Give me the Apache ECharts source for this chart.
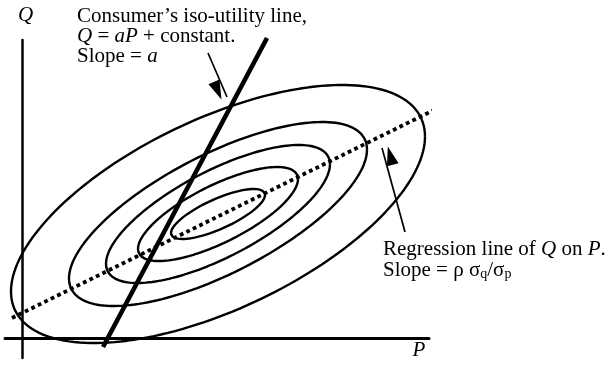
<!DOCTYPE html>
<html>
<head>
<meta charset="utf-8">
<script src="https://cdn.jsdelivr.net/npm/echarts@6/dist/echarts.min.js"></script>
<style>
  html, body { margin: 0; padding: 0; background: #fff; }
  #chart { width: 614px; height: 366px; }
</style>
</head>
<body>
<div id="chart"></div>
<script>
// ---- Data (P horizontal, Q vertical; origin at the axes crossing) ----
const contourLevels = ['innermost', 'second', 'third', 'fourth', 'outermost'];
const contourCenterP = 196;
const contourCenterQ = 124;
const contourHalfWidthP = [47, 80, 112, 149, 207];
const contourHalfHeightQ = [25, 47, 69, 92, 129];
const contourCorrelation = [0.76, 0.74, 0.72, 0.70, 0.60];

const regressionP = [-10, 414];
const regressionQ = [20, 229];

const isoUtilityP = [81, 245];
const isoUtilityQ = [-9, 300];

const arrowIsoUtilityP = [186, 205];
const arrowIsoUtilityQ = [285, 241];
const arrowRegressionP = [383, 360];
const arrowRegressionQ = [106, 190];

const axisRangeP = [-17, 407];
const axisRangeQ = [-20, 298];

const labelP = 'P';
const labelQ = 'Q';

// ---- Build ----
const FONT = '"Liberation Serif", "Times New Roman", Times, serif';
const INK = '#000';

function contourPoints(i) {
  const a = contourHalfWidthP[i], b = contourHalfHeightQ[i], r = contourCorrelation[i];
  const s = Math.sqrt(1 - r * r);
  const pts = [];
  for (let d = 0; d <= 360; d += 2) {
    const t = d * Math.PI / 180;
    pts.push([contourCenterP + a * Math.cos(t),
              contourCenterQ + b * (r * Math.cos(t) + s * Math.sin(t))]);
  }
  return pts;
}

const series = [];
contourLevels.forEach((name, i) => {
  series.push({
    name: name, type: 'line', data: contourPoints(i),
    showSymbol: false, symbol: 'none', smooth: false, clip: false, silent: true,
    lineStyle: { color: INK, width: 2.4 }, z: 2
  });
});
series.push({
  name: 'regression', type: 'line',
  data: regressionP.map((p, i) => [p, regressionQ[i]]),
  showSymbol: false, symbol: 'none', clip: false, silent: true,
  lineStyle: { color: INK, width: 3.8, type: [3.8, 3.4], cap: 'butt' }, z: 3
});
series.push({
  name: 'isoUtility', type: 'line',
  data: isoUtilityP.map((p, i) => [p, isoUtilityQ[i]]),
  showSymbol: false, symbol: 'none', clip: false, silent: true,
  lineStyle: { color: INK, width: 4.6 }, z: 4
});
series.push({
  name: 'arrows', type: 'line', data: [], silent: true,
  markLine: {
    silent: true, animation: false,
    symbol: ['none', 'triangle'], symbolSize: [12, 19], symbolOffset: [0, '50%'],
    label: { show: false },
    lineStyle: { color: INK, width: 1.7, type: 'solid' },
    itemStyle: { color: INK },
    emphasis: { disabled: true },
    data: [
      [{ coord: [arrowIsoUtilityP[0], arrowIsoUtilityQ[0]] }, { coord: [arrowIsoUtilityP[1], arrowIsoUtilityQ[1]] }],
      [{ coord: [arrowRegressionP[0], arrowRegressionQ[0]] }, { coord: [arrowRegressionP[1], arrowRegressionQ[1]] }]
    ]
  }
});

function richStyles(base, lh) {
  return {
    n: { fontFamily: FONT, fontSize: base, lineHeight: lh, fill: INK, color: INK },
    i: { fontFamily: FONT, fontSize: base, lineHeight: lh, fontStyle: 'italic', fill: INK, color: INK },
    sub: { fontFamily: FONT, fontSize: 14, lineHeight: 8, verticalAlign: 'bottom', fill: INK, color: INK }
  };
}

const chart = echarts.init(document.getElementById('chart'), null, { renderer: 'canvas' });
chart.setOption({
  animation: false,
  backgroundColor: '#fff',
  grid: { left: 5, top: 40, width: 424, height: 318, containLabel: false },
  xAxis: {
    type: 'value', min: axisRangeP[0], max: axisRangeP[1],
    axisLine: { onZero: true, lineStyle: { color: INK, width: 3 } },
    axisTick: { show: false }, axisLabel: { show: false }, splitLine: { show: false },
    name: labelP, nameLocation: 'end', nameGap: -10,
    nameTextStyle: { fontFamily: FONT, fontStyle: 'italic', fontSize: 21, color: INK,
      align: 'center', verticalAlign: 'top', lineHeight: 21, padding: [2, 0, 0, 0] }
  },
  yAxis: {
    type: 'value', min: axisRangeQ[0], max: axisRangeQ[1],
    axisLine: { onZero: true, lineStyle: { color: INK, width: 2.5 } },
    axisTick: { show: false }, axisLabel: { show: false }, splitLine: { show: false },
    name: labelQ, nameLocation: 'end', nameGap: 25,
    nameTextStyle: { fontFamily: FONT, fontStyle: 'italic', fontSize: 21, color: INK,
      align: 'center', verticalAlign: 'middle', lineHeight: 21, padding: [0, 0, 0, 7] }
  },
  graphic: [
    {
      type: 'text', left: 77, top: 6, silent: true,
      style: {
        text: '{n|Consumer\u2019s iso-utility line,}\n{i|Q}{n| = }{i|aP}{n| + constant.}\n{n|Slope = }{i|a}',
        fontFamily: FONT, fontSize: 21, fill: INK,
        rich: richStyles(21, 20)
      }
    },
    {
      type: 'text', left: 383, top: 239, silent: true,
      style: {
        text: '{n|Regression line of }{i|Q}{n| on }{i|P}{n|.}\n{n|Slope = \u03c1 \u03c3}{sub|q}{n|/\u03c3}{sub|p}',
        fontFamily: FONT, fontSize: 21, fill: INK,
        rich: richStyles(21, 21)
      }
    }
  ],
  series: series
});
</script>
</body>
</html>
